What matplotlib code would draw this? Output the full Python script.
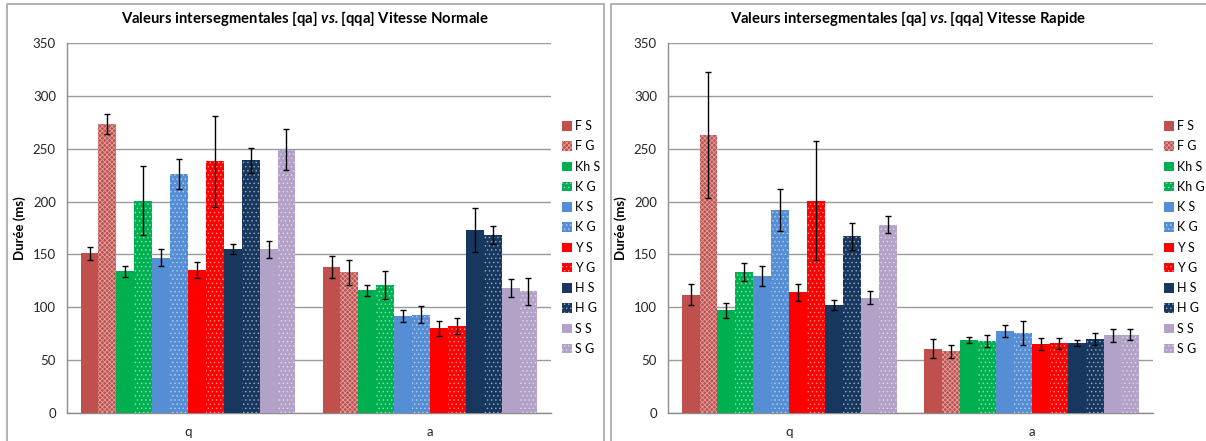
import numpy as np
import matplotlib
matplotlib.use("Agg")
import matplotlib.pyplot as plt
from matplotlib.patches import Rectangle, Patch

plt.rcParams["font.family"] = ["Lato", "DejaVu Sans"]
plt.rcParams["hatch.linewidth"] = 0.6
plt.rcParams["mathtext.fontset"] = "custom"
plt.rcParams["mathtext.bfit"] = "Lato:italic:bold"
plt.rcParams["mathtext.rm"] = "Lato"

# ── data ──────────────────────────────────────────────────────────────────────
CATEGORIES = ["q", "a"]
SERIES_LEFT = ["F S", "F G", "Kh S", "K G", "K S", "K G",
               "Y S", "Y G", "H S", "H G", "S S", "S G"]
SERIES_RIGHT = ["F S", "F G", "Kh S", "Kh G", "K S", "K G",
                "Y S", "Y G", "H S", "H G", "S S", "S G"]

# Vitesse Normale: (q, a) per series
NORM_Q = [151, 273, 134, 201, 147, 226, 135, 238, 155, 239, 155, 249]
NORM_A = [138, 133, 116, 121, 92, 93, 80, 82, 173, 168, 118, 115]
NORM_Q_ERR = [6.5, 9.5, 5, 33, 8, 14, 7.5, 43, 4.5, 12, 8, 19.5]
NORM_A_ERR = [10.5, 11.5, 5.5, 13, 5.5, 8, 7.5, 7.5, 21, 8.5, 8.5, 13]

# Vitesse Rapide
RAP_Q = [112, 263, 97, 133, 130, 192, 114, 201, 102, 167, 109, 178]
RAP_A = [61, 58.5, 69, 68, 77.5, 75.5, 65, 66, 66, 70, 73.5, 74]
RAP_Q_ERR = [10, 60, 7.5, 8.5, 9.5, 19.5, 8, 56, 4.5, 13, 6, 8]
RAP_A_ERR = [9, 6, 3, 6, 6, 11.5, 5.5, 5, 3, 6, 6, 5]

COLORS = ["#C0504D", "#C0504D", "#00B050", "#00B050", "#558ED5", "#558ED5",
          "#FF0000", "#FF0000", "#17375E", "#17375E", "#B3A2C7", "#B3A2C7"]
HATCHES = [None, "xxxxxxx", None, "....", None, "....", None, "....",
           None, "....", None, "...."]

W, H = 1206, 441
fig = plt.figure(figsize=(W / 100, H / 100), dpi=100)

# panel frames (Excel chart-area borders)
for x0, x1 in ((7, 604), (611, 1210)):
    fig.patches.append(Rectangle((x0 / W, -0.05), (x1 - x0) / W, 1.05 - 4.5 / H,
                                 transform=fig.transFigure, fill=False,
                                 ec="#a6a6a6", lw=1.2))


def hatch_ec(i):
    return (1, 1, 1, 0.45) if HATCHES[i] else COLORS[i]


def draw_panel(ax, q, a, qe, ae, labels):
    n = len(q)
    bw = 0.888 / n
    x = np.arange(len(CATEGORIES))
    for i in range(n):
        off = (i - (n - 1) / 2) * bw
        vals = [q[i], a[i]]
        errs = [qe[i], ae[i]]
        ax.bar(x + off, vals, bw, color=COLORS[i], hatch=HATCHES[i],
               edgecolor=hatch_ec(i), linewidth=0.0, label=labels[i], zorder=3)
        ax.errorbar(x + off, vals, yerr=errs, fmt="none", ecolor="black",
                    elinewidth=1.0, capsize=2, capthick=1.0, zorder=4)
    ax.set_xlim(-0.5, 1.5)
    ax.set_ylim(0, 350)
    ax.set_yticks(range(0, 351, 50))
    ax.set_xticks(x)
    ax.set_xticklabels(CATEGORIES)
    ax.tick_params(length=0, labelsize=9.5, colors="#262626")
    ax.tick_params(axis="y", pad=8)
    ax.tick_params(axis="x", pad=9)
    ax.grid(axis="y", color="#9a9a9a", lw=1.0, zorder=0)
    for s in ("top", "right"):
        ax.spines[s].set_visible(False)
    for s in ("left", "bottom"):
        ax.spines[s].set_color("#8c8c8c")
        ax.spines[s].set_linewidth(1.0)
    ax.set_ylabel("Durée (ms)", fontsize=9.5, fontweight="bold", labelpad=5)
    handles = [Patch(facecolor=COLORS[i], hatch=HATCHES[i],
                     edgecolor=hatch_ec(i), linewidth=0, label=labels[i])
               for i in range(n)]
    ax.legend(handles=handles, loc="upper left", bbox_to_anchor=(1.013, 0.805),
              frameon=False, fontsize=9, handlelength=0.8, handleheight=0.8,
              handletextpad=0.2, labelspacing=0.66, borderaxespad=0)


ax1 = fig.add_axes([67 / W, (H - 413) / H, 484 / W, 370 / H])
draw_panel(ax1, NORM_Q, NORM_A, NORM_Q_ERR, NORM_A_ERR, SERIES_LEFT)
ax2 = fig.add_axes([668 / W, (H - 413) / H, 485 / W, 370 / H])
draw_panel(ax2, RAP_Q, RAP_A, RAP_Q_ERR, RAP_A_ERR, SERIES_RIGHT)

fig.text(305 / W, 1 - 18 / H,
         r"Valeurs intersegmentales [qa] $\mathbfit{vs.}$[qqa] Vitesse Normale",
         ha="center", va="center", fontsize=10.7, fontweight="bold")
fig.text(908 / W, 1 - 18 / H,
         r"Valeurs intersegmentales [qa] $\mathbfit{vs.}$[qqa] Vitesse Rapide",
         ha="center", va="center", fontsize=10.7, fontweight="bold")

fig.savefig("out.png", dpi=100)
